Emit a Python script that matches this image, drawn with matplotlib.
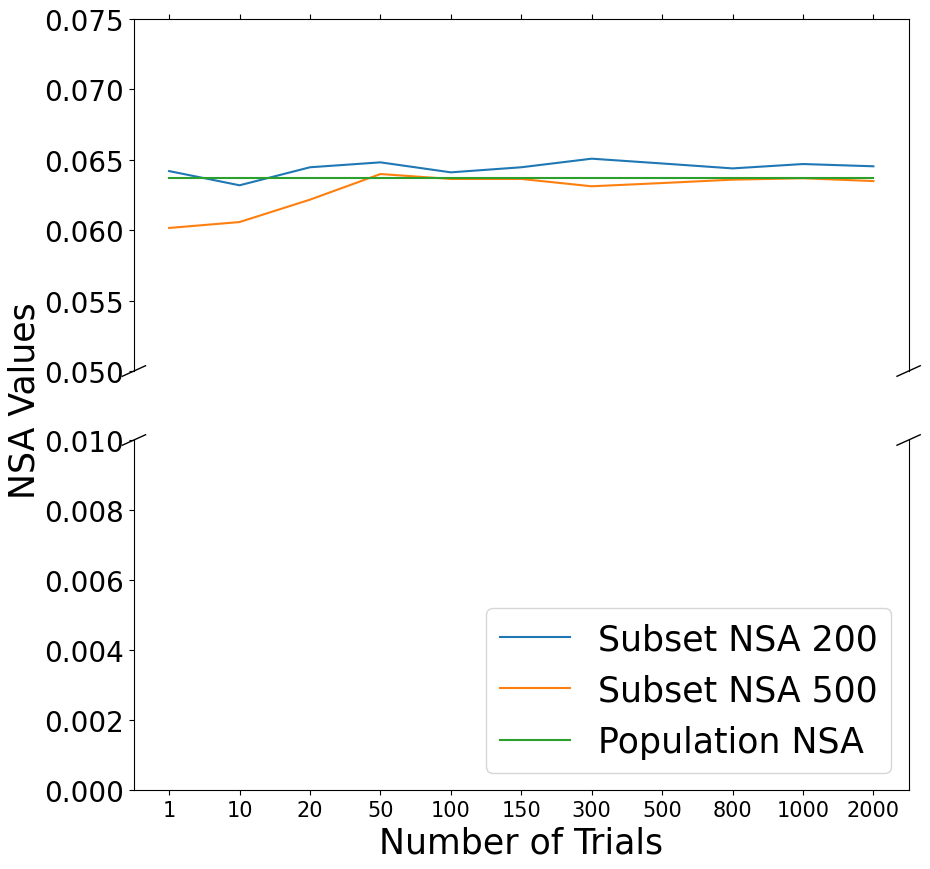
import numpy as np
import matplotlib
matplotlib.use("Agg")
import matplotlib.pyplot as plt

# values
trials = ["1", "10", "20", "50", "100", "150", "300", "500", "800", "1000", "2000"]
nsa_200 = [0.06420, 0.06319, 0.06447, 0.06482, 0.06411, 0.06447,
           0.06508, 0.06474, 0.06439, 0.06470, 0.06454]
nsa_500 = [0.06016, 0.06058, 0.06217, 0.06399, 0.06364, 0.06364,
           0.06312, 0.06335, 0.06359, 0.06369, 0.06349]
population_nsa = [0.06371] * len(trials)

fig = plt.figure(figsize=(9.3, 8.7), dpi=100)
ax1 = fig.add_axes([0.144, 0.5724, 0.833, 0.4046])
ax2 = fig.add_axes([0.144, 0.0908, 0.833, 0.4023])

for ax in (ax1, ax2):
    ax.plot(trials, nsa_200, label="Subset NSA 200")
    ax.plot(trials, nsa_500, label="Subset NSA 500")
    ax.plot(trials, population_nsa, label="Population NSA")

ax1.set_ylim(0.05, 0.075)
ax2.set_ylim(0.0, 0.01)

# broken axis look
ax1.spines['bottom'].set_visible(False)
ax2.spines['top'].set_visible(False)
ax1.xaxis.tick_top()
ax1.tick_params(labeltop=False)
ax2.xaxis.tick_bottom()

d = .015
kw = dict(transform=ax1.transAxes, color='k', clip_on=False, lw=1)
ax1.plot((-d, +d), (-d, +d), **kw)
ax1.plot((1 - d, 1 + d), (-d, +d), **kw)
kw.update(transform=ax2.transAxes)
ax2.plot((-d, +d), (1 - d, 1 + d), **kw)
ax2.plot((1 - d, 1 + d), (1 - d, 1 + d), **kw)

ax1.set_yticks([0.05, 0.055, 0.06, 0.065, 0.07, 0.075])
ax1.set_yticklabels(["0.050", "0.055", "0.060", "0.065", "0.070", "0.075"])
ax2.set_yticks([0.0, 0.002, 0.004, 0.006, 0.008, 0.01])
ax2.set_yticklabels(["0.000", "0.002", "0.004", "0.006", "0.008", "0.010"])
ax1.tick_params(axis='y', labelsize=20)
ax2.tick_params(axis='y', labelsize=20)
ax2.tick_params(axis='x', labelsize=15)

ax2.set_xlabel("Number of Trials", fontsize=25)
fig.text(0.026, 0.54, "NSA Values", rotation=90, fontsize=25,
         ha='center', va='center')

ax2.legend(loc='lower right', fontsize=25)

fig.savefig("out.png", dpi=100)
